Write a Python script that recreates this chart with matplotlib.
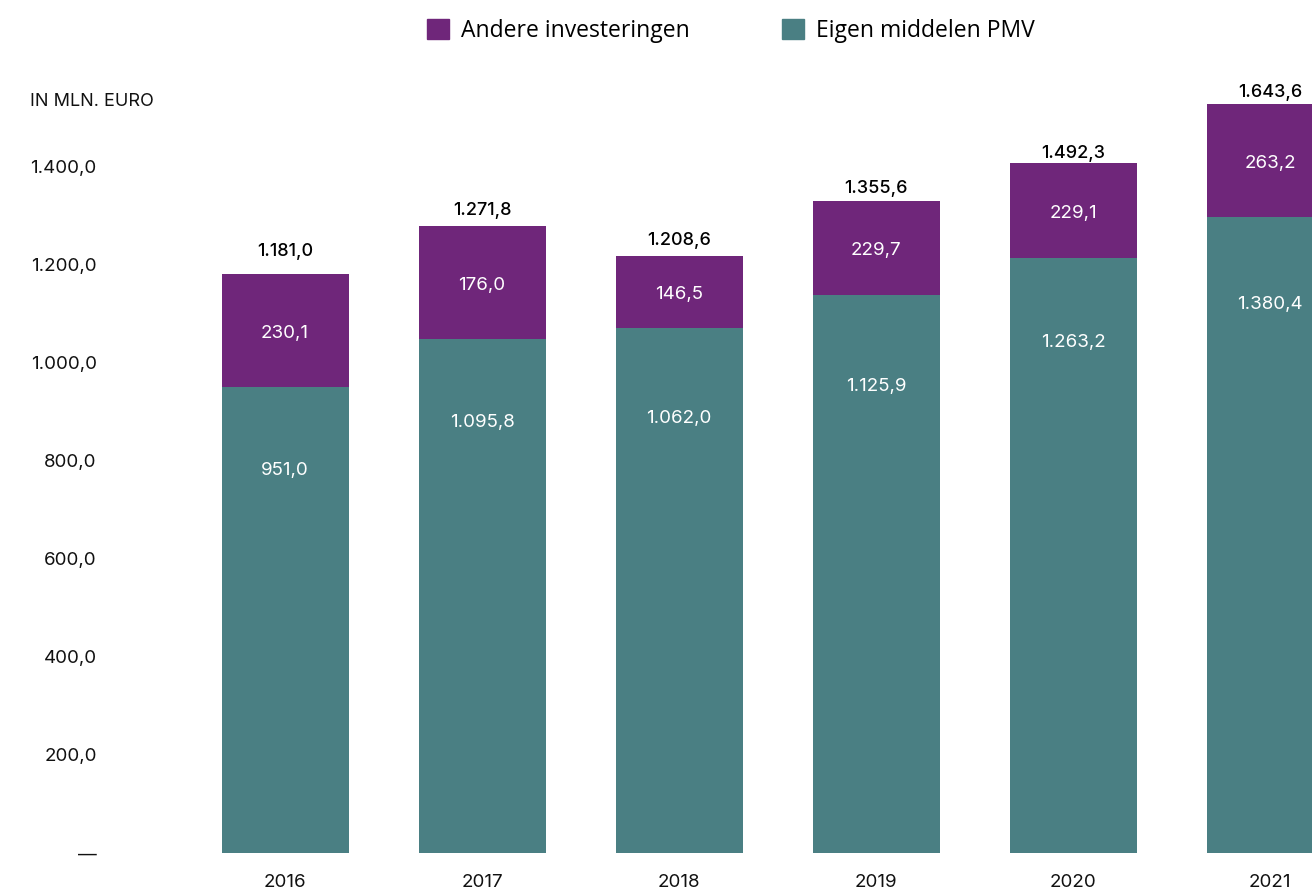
import matplotlib
matplotlib.use('Agg')
import matplotlib.pyplot as plt
from matplotlib.patches import Patch

# data (bar heights as drawn, labels as printed)
years = ['2016', '2017', '2018', '2019', '2020', '2021']
eigen_hoogte = [951, 1049, 1071, 1139, 1214, 1298]
andere_hoogte = [230, 231, 147, 192, 194, 231]
eigen_labels = ['951,0', '1.095,8', '1.062,0', '1.125,9', '1.263,2', '1.380,4']
andere_labels = ['230,1', '176,0', '146,5', '229,7', '229,1', '263,2']
totaal_labels = ['1.181,0', '1.271,8', '1.208,6', '1.355,6', '1.492,3', '1.643,6']
y_ticks = [0, 200, 400, 600, 800, 1000, 1200, 1400]
y_tick_labels = ['—', '200,0', '400,0', '600,0', '800,0', '1.000,0', '1.200,0', '1.400,0']

PAARS = '#6F267A'
TEAL = '#4A7F83'

# label offsets (points) as placed in the original
totaal_off = [16, 11, 11, 9, 7, 8]
eigen_off = [-60, -60, -65, -66, -61, -63]

plt.rcParams['font.family'] = ['Inter', 'DejaVu Sans']

W, H = 1312, 891
fig = plt.figure(figsize=(W / 100, H / 100), dpi=100)
ax = fig.add_axes([105 / W, 38 / H, (W - 105) / W, (853 - 60) / H])

x = list(range(len(years)))
ax.bar(x, eigen_hoogte, width=0.645, color=TEAL)
ax.bar(x, andere_hoogte, width=0.645, bottom=eigen_hoogte, color=PAARS)

for i in x:
    top = eigen_hoogte[i] + andere_hoogte[i]
    mid = eigen_hoogte[i] + andere_hoogte[i] / 2
    ax.annotate(totaal_labels[i], xy=(i, top), xytext=(0, totaal_off[i]), textcoords='offset points',
                ha='center', va='center', fontsize=13, fontweight='medium', color='#000000',
                annotation_clip=False)
    ax.annotate(andere_labels[i], xy=(i, mid), xytext=(0, -2), textcoords='offset points',
                ha='center', va='center', fontsize=13.5, color='white')
    ax.annotate(eigen_labels[i], xy=(i, eigen_hoogte[i]), xytext=(0, eigen_off[i]), textcoords='offset points',
                ha='center', va='center', fontsize=13.5, color='white')

ax.set_xlim(-0.914, 5.213)
ax.set_ylim(0, 1618)
ax.set_xticks(x)
ax.set_xticklabels(years, fontsize=13.5, color='#111111')
ax.set_yticks(y_ticks)
ax.set_yticklabels(y_tick_labels, fontsize=13.5, color='#111111')
ax.tick_params(axis='both', length=0)
ax.tick_params(axis='x', pad=15)
ax.tick_params(axis='y', pad=6)
for s in ax.spines.values():
    s.set_visible(False)

fig.text(30 / W, 1 - 101 / H, 'IN MLN. EURO', fontsize=13, color='#111111',
         ha='left', va='center')

handles = [Patch(color=PAARS, label='Andere investeringen'),
           Patch(color=TEAL, label='Eigen middelen PMV')]
fig.legend(handles=handles, loc='center', bbox_to_anchor=(731 / W, 1 - 31 / H), ncol=2,
           frameon=False, prop={'family': 'Open Sans', 'size': 16.5},
           handlelength=0.95, handleheight=0.95, handletextpad=0.55, columnspacing=4.0)

fig.savefig('out.png', dpi=100)
